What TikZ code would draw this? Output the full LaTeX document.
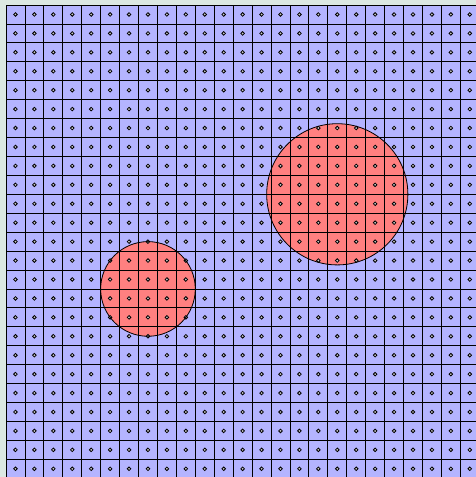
\documentclass[tikz,border=0pt]{standalone}
\definecolor{margin}{RGB}{220,232,226}
\definecolor{cellblue}{RGB}{180,180,255}
\definecolor{cellred}{RGB}{255,128,128}
\tikzset{
  gridline/.style={black, line width=0.8pt},
  dotmark/.style={draw=black, fill=gray!40, line width=0.8pt},
  blob/.style={fill=cellred},
  blobedge/.style={draw=black, line width=0.8pt}
}
\begin{document}
\begin{tikzpicture}[x=1pt,y=-1pt]
\useasboundingbox (0,0) rectangle (476,477);
\fill[margin] (0,0) rectangle (476,477);
\clip (0,0) rectangle (476,477);
\begin{scope}[shift={(6,5)}, x=18.93pt, y=-18.93pt]
  \fill[cellblue] (0,0) rectangle (25,25);
  \fill[blob] (7.5,15) circle (2.5);
  \fill[blob] (17.5,10) circle (3.73);
  \foreach \i in {0,...,25} {
    \draw[gridline] (\i,0) -- (\i,25);
    \draw[gridline] (0,\i) -- (25,\i);
  }
  \foreach \i in {0,...,24} {
    \foreach \j in {0,...,24} {
      \draw[dotmark] (\i+0.5,\j+0.5) circle (1.8pt);
    }
  }
  \draw[blobedge] (7.5,15) circle (2.5);
  \draw[blobedge] (17.5,10) circle (3.73);
\end{scope}
\end{tikzpicture}
\end{document}
